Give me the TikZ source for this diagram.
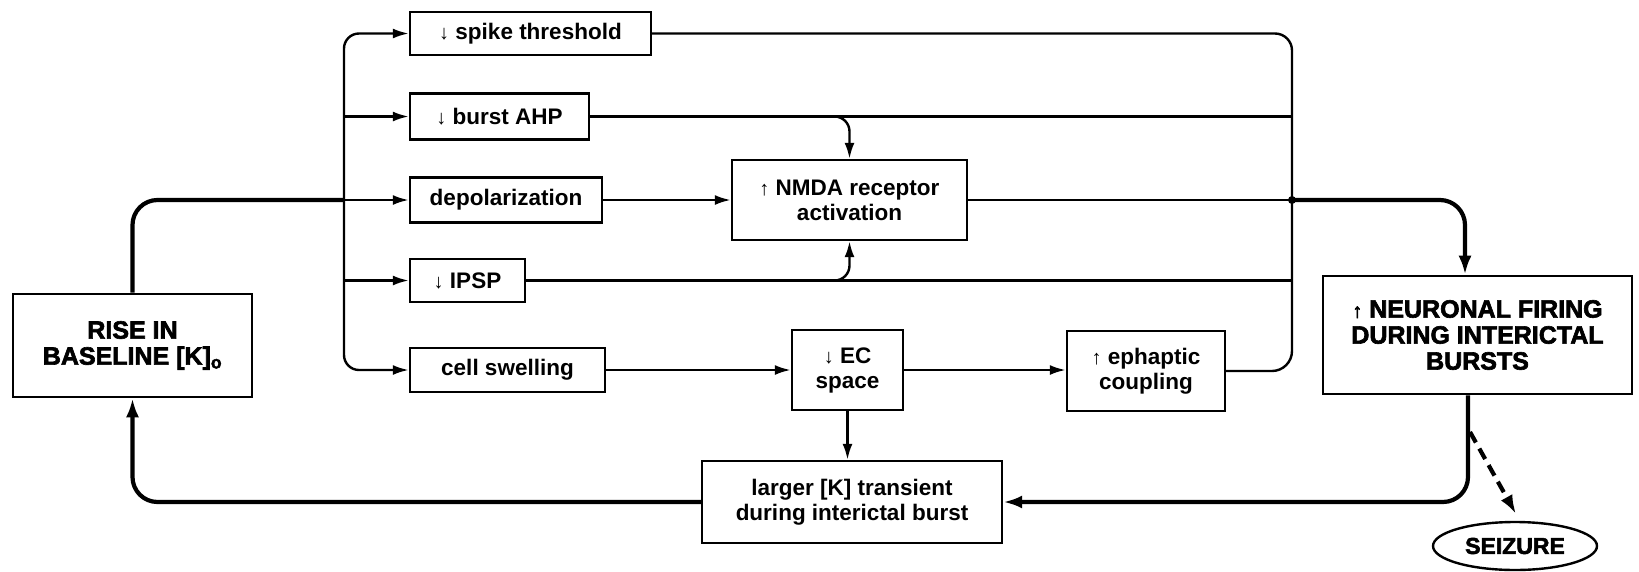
\documentclass[tikz,border=0pt]{standalone}
\usepackage{fontspec}
\setmainfont{Liberation Sans}
\newfontfamily\heavyfont{Liberation Sans}[FakeBold=2.5]
\usetikzlibrary{arrows.meta,shapes.geometric}
\newcommand{\lblfont}{\fontsize{22.5}{25}\selectfont\bfseries}
\newcommand{\capfont}{\heavyfont\fontsize{25}{26}\selectfont\bfseries}
\newcommand{\dn}{{\fontsize{20}{20}\selectfont ↓}}
\newcommand{\up}{{\fontsize{20}{20}\selectfont ↑}}
\tikzset{
  lbox/.style={draw, line width=2.4pt, inner sep=2pt, align=center, font=\lblfont},
  capbox/.style={draw, line width=2.6pt, inner sep=2pt, align=center, font=\capfont},
  thinline/.style={line width=2.4pt},
  arr/.style={line width=2.4pt, -{Latex[length=16pt,width=10pt]}},
  thickline/.style={line width=4.2pt},
  thickarr/.style={line width=4.2pt, -{Latex[length=19pt,width=13pt]}},
}
\begin{document}
\begin{tikzpicture}[x=1pt,y=-1pt]
\useasboundingbox (0,0) rectangle (1639,571);
% nodes
\node[capbox, minimum width=239pt, minimum height=103pt] (rise) at (132.5,345.5) {RISE IN\\BASELINE [K]\textsubscript{o}};
\node[lbox, minimum width=241pt, minimum height=43pt] (spike) at (530.5,33.5) {\dn\ spike threshold};
\node[lbox, minimum width=179pt, minimum height=46pt] (ahp) at (499.5,116.5) {\dn\ burst AHP};
\node[lbox, minimum width=192pt, minimum height=45pt] (depol) at (506,200) {depolarization};
\node[lbox, minimum width=115pt, minimum height=43pt] (ipsp) at (467.5,280.5) {\dn\ IPSP};
\node[lbox, minimum width=195pt, minimum height=44pt] (cell) at (507.5,370) {cell swelling};
\node[lbox, minimum width=235pt, minimum height=80pt] (nmda) at (849.5,200) {\up\ NMDA receptor\\activation};
\node[lbox, minimum width=111pt, minimum height=80pt] (ec) at (847.5,370) {\dn\ EC\\space};
\node[lbox, minimum width=158pt, minimum height=80pt] (eph) at (1146,371) {\up\ ephaptic\\coupling};
\node[lbox, minimum width=300pt, minimum height=82pt] (larger) at (852,502) {larger [K] transient\\during interictal burst};
\node[capbox, minimum width=309pt, minimum height=118pt] (neur) at (1477.5,335) {\up\ NEURONAL FIRING\\DURING INTERICTAL\\BURSTS};
\node[draw, ellipse, line width=2.4pt, minimum width=164pt, minimum height=48pt, inner sep=0pt, font=\heavyfont\fontsize{23}{23}\selectfont\bfseries] (seiz) at (1515,546) {SEIZURE};
% coordinates
\coordinate (LT) at (344,200);
\coordinate (RT) at (1292,200);
\coordinate (AB) at (818,116.5);
\coordinate (IB) at (818,280.5);
\coordinate (D1) at (1470,432);
\coordinate (D2) at (1516,514);
% left fan
\draw[thickline, rounded corners=25pt] (rise.north) |- (LT);
\draw[arr, rounded corners=15pt] (LT) |- (spike.west);
\draw[arr] (LT |- ahp.west) -- (ahp.west);
\draw[arr] (LT) -- (depol.west);
\draw[arr] (LT |- ipsp.west) -- (ipsp.west);
\draw[arr, rounded corners=15pt] (LT) |- (cell.west);
% middle
\draw[arr] (depol.east) -- (nmda.west);
\draw[arr, rounded corners=15pt] (AB) -| (nmda.north);
\draw[arr, rounded corners=15pt] (IB) -| (nmda.south);
\draw[arr] (cell.east) -- (cell.east -| ec.west);
\draw[arr] (ec.east) -- (ec.east -| eph.west);
\draw[arr] (ec.south) -- (ec.south |- larger.north);
% right collector
\draw[thinline, rounded corners=17pt] (spike.east) -| (RT);
\draw[thinline, rounded corners=20pt] (RT) |- (eph.east);
\draw[thinline] (ahp.east) -- (ahp.east -| RT);
\draw[thinline] (nmda.east) -- (RT);
\draw[thinline] (ipsp.east) -- (ipsp.east -| RT);
\fill (RT) circle (4pt);
\draw[thickarr, rounded corners=25pt] (RT) -| ([xshift=-12.5pt]neur.north);
% feedback loop
\draw[thickarr, rounded corners=25pt] ([xshift=-9.5pt]neur.south) |- (larger.east);
\draw[thickarr, rounded corners=25pt] (larger.west) -| (rise.south);
\draw[thickarr, dash pattern=on 12pt off 7pt] (D1) -- (D2);
\end{tikzpicture}
\end{document}
